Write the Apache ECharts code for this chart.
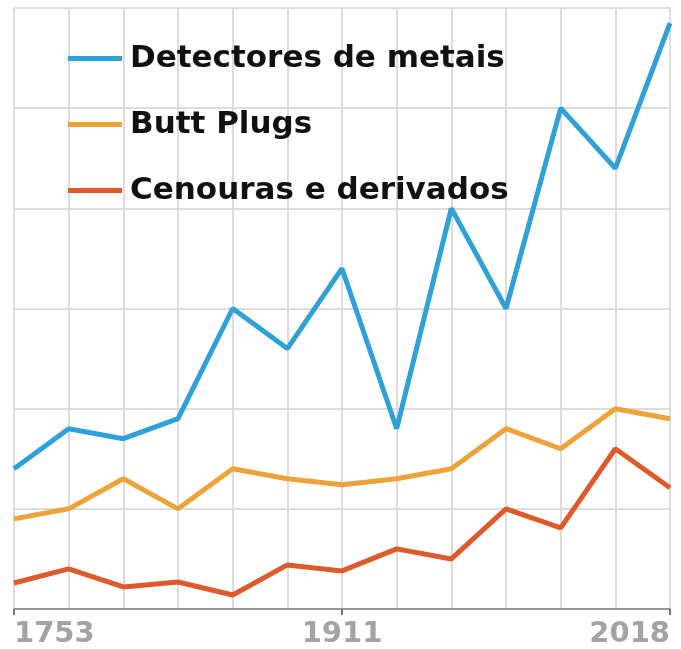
<!DOCTYPE html>
<html>
<head>
<meta charset="utf-8">
<script src="https://cdn.jsdelivr.net/npm/echarts@6/dist/echarts.min.js"></script>
<style>
html,body{margin:0;padding:0;background:#fff;}
#c{width:681px;height:649px;}
</style>
</head>
<body>
<div id="c"></div>
<script>
var categories = ['1753','','','','','','1911','','','','','','2018'];
var seriesNames = ['Detectores de metais', 'Butt Plugs', 'Cenouras e derivados'];
var detectores = [1.4, 1.8, 1.7, 1.9, 3.0, 2.6, 3.4, 1.8, 4.0, 3.0, 5.0, 4.4, 5.85];
var buttPlugs = [0.9, 1.0, 1.3, 1.0, 1.4, 1.3, 1.24, 1.3, 1.4, 1.8, 1.6, 2.0, 1.9];
var cenouras = [0.26, 0.4, 0.22, 0.27, 0.14, 0.44, 0.38, 0.6, 0.5, 1.0, 0.81, 1.6, 1.21];
var colors = ['#2ea2d8', '#eda23a', '#de5a2a'];

var chart = echarts.init(document.getElementById('c'));
var dataSets = [detectores, buttPlugs, cenouras];
chart.setOption({
  animation: false,
  backgroundColor: '#ffffff',
  grid: {left: 14, right: 11, top: 8, bottom: 39, containLabel: false},
  legend: {
    orient: 'vertical',
    left: 63,
    top: 38,
    icon: 'rect',
    itemWidth: 54,
    itemHeight: 5,
    itemGap: 35,
    textStyle: {fontFamily: 'DejaVu Sans', fontWeight: 'bold', fontSize: 31, color: '#111', lineHeight: 30, padding: [0, 0, 0, 3]},
    data: seriesNames
  },
  xAxis: {
    type: 'category',
    boundaryGap: false,
    data: categories,
    axisLine: {lineStyle: {color: '#9a9a9a', width: 2}},
    axisTick: {show: true, interval: 5, length: 6, lineStyle: {color: '#777', width: 2}},
    axisLabel: {interval: 5, fontFamily: 'DejaVu Sans', fontWeight: 'bold', fontSize: 29, color: '#a3a3a3', margin: 11, alignMinLabel: 'left', alignMaxLabel: 'right'},
    splitLine: {show: true, interval: 0, lineStyle: {color: '#dcdcdc', width: 2}}
  },
  yAxis: {
    type: 'value',
    min: 0, max: 6, interval: 1,
    axisLabel: {show: false},
    axisLine: {show: false},
    axisTick: {show: false},
    splitLine: {lineStyle: {color: '#dcdcdc', width: 2}}
  },
  series: seriesNames.map(function (n, i) {
    return {
      name: n,
      type: 'line',
      data: dataSets[i],
      symbol: 'none',
      color: colors[i],
      lineStyle: {width: 5, color: colors[i]},
      z: 3 - i
    };
  })
});
</script>
</body>
</html>
